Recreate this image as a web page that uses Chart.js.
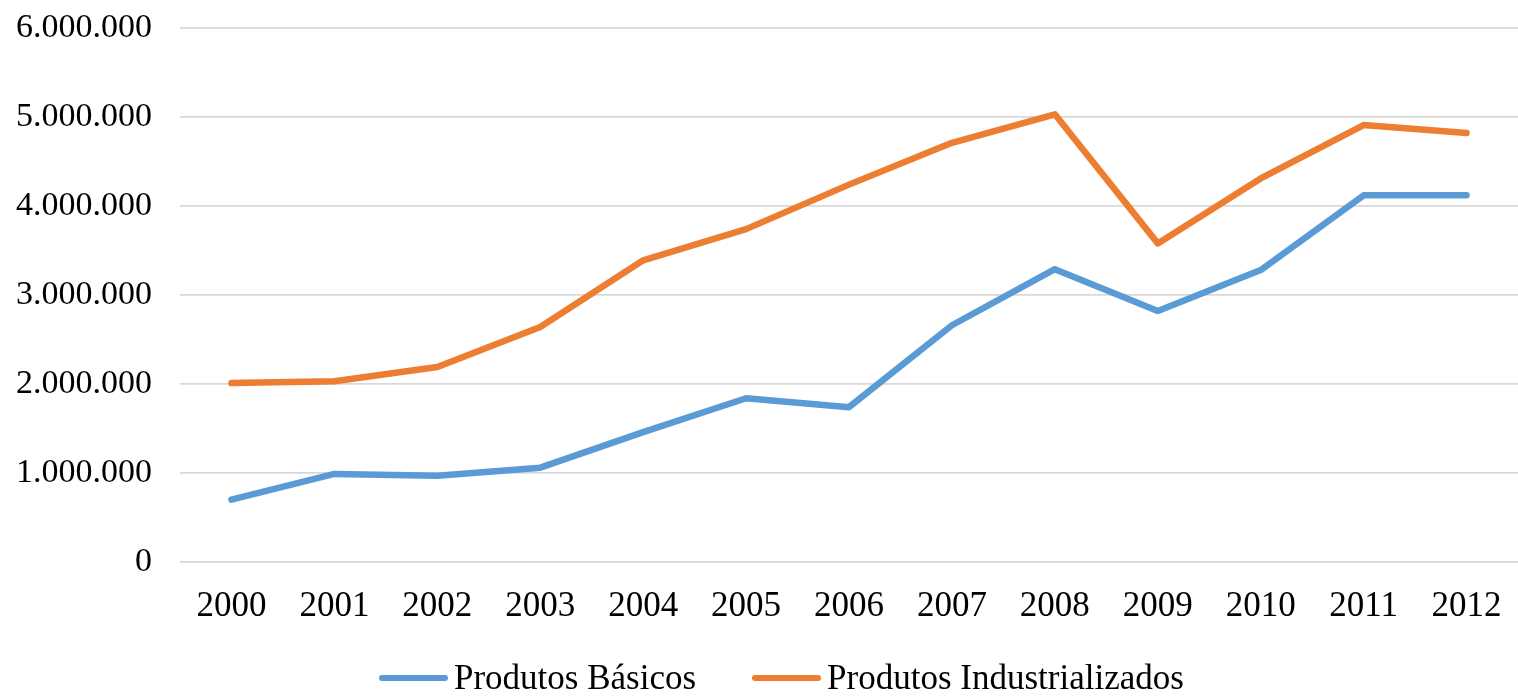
<!DOCTYPE html>
<html>
<head>
<meta charset="utf-8">
<script src="https://cdn.jsdelivr.net/npm/chart.js@4.4.1/dist/chart.umd.min.js"></script>
<style>
  html, body { margin: 0; padding: 0; background: #fff; }
  #box { position: relative; width: 1518px; height: 696px; }
  #legenda {
    position: absolute; left: 379px; top: 657px; height: 42px;
    display: flex; align-items: center;
    font-family: 'Liberation Serif', 'Times New Roman', serif; font-size: 35px; color: #000;
    line-height: 42px; white-space: nowrap;
  }
  #legenda .item { display: flex; align-items: center; margin-right: 56px; }
  #legenda .linha { display: inline-block; width: 69px; height: 6.5px; border-radius: 3px; margin-right: 6px; }
</style>
</head>
<body>
<div id="box">
  <canvas id="grafico"></canvas>
  <div id="legenda"></div>
</div>
<script>
// ---------------- DADOS ----------------
const anos = ["2000", "2001", "2002", "2003", "2004", "2005", "2006", "2007", "2008", "2009", "2010", "2011", "2012"];
const produtosBasicos = [700000, 990000, 970000, 1060000, 1460000, 1840000, 1740000, 2660000, 3290000, 2820000, 3280000, 4120000, 4120000];
const produtosIndustrializados = [2010000, 2030000, 2190000, 2640000, 3390000, 3740000, 4240000, 4710000, 5030000, 3580000, 4310000, 4910000, 4820000];

const azul = "#5b9bd5";
const laranja = "#ed7d31";
const fonte = "'Liberation Serif', 'Times New Roman', serif";

// formato 1.000.000
function formatarNumero(v) {
  return String(Math.round(v)).replace(/\B(?=(\d{3})+(?!\d))/g, ".");
}

// legenda em HTML, montada a partir dos datasets
const legendaHtml = {
  id: "legendaHtml",
  afterUpdate(chart) {
    const caixa = document.getElementById("legenda");
    caixa.innerHTML = "";
    chart.data.datasets.forEach((ds) => {
      const item = document.createElement("span");
      item.className = "item";
      const linha = document.createElement("span");
      linha.className = "linha";
      linha.style.background = ds.borderColor;
      const texto = document.createElement("span");
      texto.textContent = ds.label;
      item.appendChild(linha);
      item.appendChild(texto);
      caixa.appendChild(item);
    });
  }
};

const ctx = document.getElementById("grafico").getContext("2d");
const grafico = new Chart(ctx, {
  type: "line",
  data: {
    labels: anos,
    datasets: [
      {
        label: "Produtos Básicos",
        data: produtosBasicos,
        borderColor: azul,
        backgroundColor: azul,
        borderWidth: 6.5,
        pointRadius: 0,
        tension: 0,
        borderCapStyle: "round",
        borderJoinStyle: "round"
      },
      {
        label: "Produtos Industrializados",
        data: produtosIndustrializados,
        borderColor: laranja,
        backgroundColor: laranja,
        borderWidth: 6.5,
        pointRadius: 0,
        tension: 0,
        borderCapStyle: "round",
        borderJoinStyle: "round"
      }
    ]
  },
  options: {
    responsive: true,
    maintainAspectRatio: false,
    animation: false,
    layout: { padding: { top: 28, right: 0, left: 0, bottom: 0 } },
    scales: {
      x: {
        offset: true,
        grid: { display: false },
        border: { display: false },
        ticks: { color: "#000", font: { family: fonte, size: 35 }, padding: 16, maxRotation: 0, autoSkip: false },
        afterFit: (escala) => { escala.height = 134; }
      },
      y: {
        min: 0,
        max: 6000000,
        grid: { color: "#d9d9d9", lineWidth: 1.8, drawTicks: false },
        border: { display: false },
        ticks: {
          stepSize: 1000000,
          color: "#000",
          font: { family: fonte, size: 34 },
          padding: 28,
          callback: (v) => formatarNumero(v)
        },
        afterFit: (escala) => {
          escala.width = 180;
          escala.paddingTop = 0;
          escala.paddingBottom = 0;
        }
      }
    },
    plugins: {
      legend: { display: false },
      tooltip: { enabled: false }
    }
  },
  plugins: [legendaHtml]
});
</script>
</body>
</html>
